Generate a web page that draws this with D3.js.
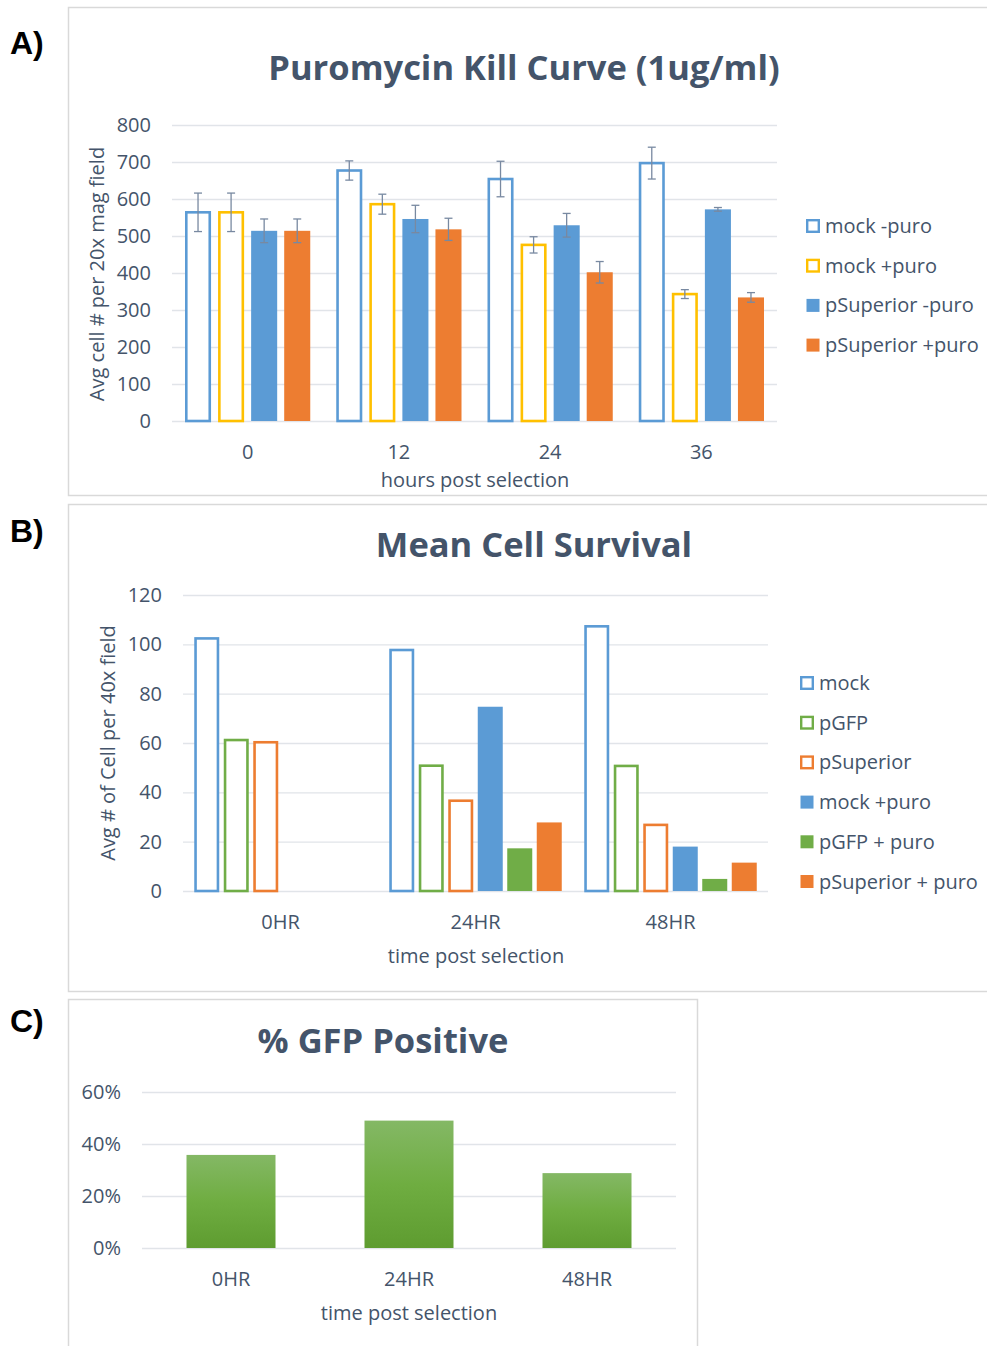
<!DOCTYPE html>
<html>
<head>
<meta charset="utf-8">
<script src="https://cdn.jsdelivr.net/npm/d3@7"></script>
<style>
  body { margin: 0; background: #fff; }
  svg text { font-family: "Open Sans", "Noto Sans", sans-serif; }
</style>
</head>
<body>
<svg id="fig" width="987" height="1346"></svg>
<script>
// ---- A) Puromycin kill curve
var killTimes = ["0", "12", "24", "36"];
var killSeries = ["mock -puro", "mock +puro", "pSuperior -puro", "pSuperior +puro"];
var killMockMinus = [564, 677, 654, 697];
var killMockPlus = [564, 586, 476, 343];
var killPSupMinus = [514, 546, 529, 572];
var killPSupPlus = [514, 518, 402, 334];
var killErrMockMinus = [52, 26, 48, 43];
var killErrMockPlus = [52, 27, 22, 12];
var killErrPSupMinus = [32, 37, 32, 5];
var killErrPSupPlus = [32, 30, 29, 13];
var killTicks = [0, 100, 200, 300, 400, 500, 600, 700, 800];

// ---- B) Mean cell survival
var survivalTimes = ["0HR", "24HR", "48HR"];
var survivalSeries = ["mock", "pGFP", "pSuperior", "mock +puro", "pGFP + puro", "pSuperior + puro"];
var survivalMock = [102.4, 97.7, 107.3];
var survivalPGFP = [61.2, 50.8, 50.7];
var survivalPSup = [60.3, 36.6, 26.8];
var survivalMockPuro = [0, 74.7, 18.0];
var survivalPGFPPuro = [0, 17.3, 4.9];
var survivalPSupPuro = [0, 27.8, 11.5];
var survivalTicks = [0, 20, 40, 60, 80, 100, 120];

// ---- C) % GFP positive
var gfpTimes = ["0HR", "24HR", "48HR"];
var gfpPositive = [0.358, 0.49, 0.288];
var gfpTicks = [0, 0.2, 0.4, 0.6];

var textCol = "#44546a";
var gridCol = "#e1e4e9";
var blue = "#5b9bd5", orange = "#ed7d31", yellow = "#ffc000", green = "#70ad47";
var fs = "20px";

var svg = d3.select("#fig");

// frames + panel letters
svg.append("rect").attr("x", 68.5).attr("y", 7.5).attr("width", 940).attr("height", 488)
  .attr("fill", "none").attr("stroke", "#d9d9d9").attr("stroke-width", 1.5);
svg.append("rect").attr("x", 68.5).attr("y", 504.5).attr("width", 940).attr("height", 487)
  .attr("fill", "none").attr("stroke", "#d9d9d9").attr("stroke-width", 1.5);
svg.append("rect").attr("x", 68.5).attr("y", 999.5).attr("width", 629).attr("height", 360)
  .attr("fill", "none").attr("stroke", "#d9d9d9").attr("stroke-width", 1.5);

[["A)", 42], ["B)", 530], ["C)", 1020]].forEach(function(p) {
  svg.append("text").attr("x", 10).attr("y", p[1]).attr("dy", "0.36em")
    .style("font-family", "Liberation Sans, Arial, sans-serif")
    .style("font-weight", "bold").style("font-size", "32px").attr("fill", "#000")
    .text(p[0]);
});

// a grouped bar chart with excel look
function grouped(cfg) {
  var g = svg.append("g");
  var y = d3.scaleLinear().domain([cfg.ticks[0], cfg.ticks[cfg.ticks.length - 1]]).range(cfg.yRange);
  var x0 = d3.scaleBand().domain(cfg.cats).range(cfg.xRange).padding(0);
  var x1 = d3.scaleBand().domain(cfg.series.map(function(s) { return s.name; }))
    .range([cfg.groupPad, x0.bandwidth() - cfg.groupPad]).paddingInner(cfg.inner);

  // grid + y labels
  var ya = g.append("g").attr("transform", "translate(" + cfg.xRange[0] + ",0)")
    .call(d3.axisLeft(y).tickValues(cfg.ticks).tickSize(-(cfg.xRange[1] - cfg.xRange[0])).tickPadding(21).tickFormat(cfg.fmt || d3.format("d")));
  ya.select(".domain").remove();
  ya.selectAll("line").attr("stroke", gridCol).attr("stroke-width", 1.3);
  ya.selectAll("text").attr("fill", textCol).style("font-size", fs);

  // x labels
  var xa = g.append("g").attr("transform", "translate(0," + cfg.yRange[0] + ")")
    .call(d3.axisBottom(x0).tickSize(0).tickPadding(cfg.xPad));
  xa.select(".domain").remove();
  xa.selectAll("text").attr("fill", textCol).style("font-size", fs);

  cfg.series.forEach(function(s) {
    var bars = g.append("g").selectAll("rect")
      .data(cfg.cats.map(function(c, i) { return {cat: c, v: s.values[i]}; }))
      .enter().append("rect");
    if (s.outline) {
      bars.attr("x", function(d) { return x0(d.cat) + x1(s.name) + 1.3; })
        .attr("y", function(d) { return y(d.v); })
        .attr("width", x1.bandwidth() - 2.6)
        .attr("height", function(d) { return y(0) - y(d.v); })
        .attr("fill", "#fff").attr("stroke", s.color).attr("stroke-width", 2.6);
    } else {
      bars.attr("x", function(d) { return x0(d.cat) + x1(s.name); })
        .attr("y", function(d) { return y(d.v); })
        .attr("width", x1.bandwidth())
        .attr("height", function(d) { return y(0) - y(d.v); })
        .attr("fill", s.color);
    }
    if (s.err) {
      var eb = g.append("g").selectAll("g")
        .data(cfg.cats.map(function(c, i) { return {cat: c, v: s.values[i], e: s.err[i]}; }))
        .enter().append("g").attr("stroke", "#7889a1").attr("stroke-width", 1.3);
      var cx = function(d) { return x0(d.cat) + x1(s.name) + x1.bandwidth() / 2; };
      eb.append("line").attr("x1", cx).attr("x2", cx)
        .attr("y1", function(d) { return y(d.v + d.e); }).attr("y2", function(d) { return y(d.v - d.e); });
      eb.append("line").attr("x1", function(d) { return cx(d) - 4; }).attr("x2", function(d) { return cx(d) + 4; })
        .attr("y1", function(d) { return y(d.v + d.e); }).attr("y2", function(d) { return y(d.v + d.e); });
      eb.append("line").attr("x1", function(d) { return cx(d) - 4; }).attr("x2", function(d) { return cx(d) + 4; })
        .attr("y1", function(d) { return y(d.v - d.e); }).attr("y2", function(d) { return y(d.v - d.e); });
    }
  });

  // title + axis titles
  g.append("text").attr("x", cfg.title[1]).attr("y", cfg.title[2]).attr("dy", "0.35em")
    .attr("text-anchor", "middle").attr("fill", textCol)
    .style("font-size", "34.5px").style("font-weight", "bold").text(cfg.title[0]);
  g.append("text").attr("x", cfg.xTitle[1]).attr("y", cfg.xTitle[2]).attr("dy", "0.35em")
    .attr("text-anchor", "middle").attr("fill", textCol).style("font-size", fs).text(cfg.xTitle[0]);
  g.append("text").attr("transform", "translate(" + cfg.yTitle[1] + "," + cfg.yTitle[2] + ") rotate(-90)")
    .attr("dy", "0.35em").attr("text-anchor", "middle").attr("fill", textCol)
    .style("font-size", fs).text(cfg.yTitle[0]);

  // legend
  var lg = g.append("g").selectAll("g").data(cfg.series).enter().append("g")
    .attr("transform", function(d, i) { return "translate(" + cfg.legend.x + "," + (cfg.legend.y + i * cfg.legend.step) + ")"; });
  lg.append("rect")
    .attr("x", function(d) { return d.outline ? 1.2 : 0.5; })
    .attr("y", function(d) { return d.outline ? -5.8 : -6.5; })
    .attr("width", function(d) { return d.outline ? 11.6 : 13; })
    .attr("height", function(d) { return d.outline ? 11.6 : 13; })
    .attr("fill", function(d) { return d.outline ? "#fff" : d.color; })
    .attr("stroke", function(d) { return d.outline ? d.color : "none"; })
    .attr("stroke-width", 2.4);
  lg.append("text").attr("x", cfg.legend.tx).attr("dy", "0.35em").attr("fill", textCol)
    .style("font-size", fs).text(function(d) { return d.name; });
  return {x0: x0, y: y};
}

grouped({
  cats: killTimes,
  ticks: killTicks,
  xRange: [172, 777], yRange: [421, 125],
  groupPad: 13, inner: 7 / 33,
  xPad: 24,
  series: [
    {name: killSeries[0], values: killMockMinus, err: killErrMockMinus, color: blue, outline: true},
    {name: killSeries[1], values: killMockPlus, err: killErrMockPlus, color: yellow, outline: true},
    {name: killSeries[2], values: killPSupMinus, err: killErrPSupMinus, color: blue},
    {name: killSeries[3], values: killPSupPlus, err: killErrPSupPlus, color: orange}
  ],
  title: ["Puromycin Kill Curve (1ug/ml)", 524, 68],
  xTitle: ["hours post selection", 475, 480],
  yTitle: ["Avg cell # per 20x mag field", 97, 274],
  legend: {x: 806, y: 226, step: 39.7, tx: 19}
});

grouped({
  cats: survivalTimes,
  ticks: survivalTicks,
  xRange: [183, 768], yRange: [891, 595],
  groupPad: 11.25, inner: 4.5 / 29.5,
  xPad: 24,
  series: [
    {name: survivalSeries[0], values: survivalMock, color: blue, outline: true},
    {name: survivalSeries[1], values: survivalPGFP, color: green, outline: true},
    {name: survivalSeries[2], values: survivalPSup, color: orange, outline: true},
    {name: survivalSeries[3], values: survivalMockPuro, color: blue},
    {name: survivalSeries[4], values: survivalPGFPPuro, color: green},
    {name: survivalSeries[5], values: survivalPSupPuro, color: orange}
  ],
  title: ["Mean Cell Survival", 534, 545],
  xTitle: ["time post selection", 476, 956],
  yTitle: ["Avg # of Cell per 40x field", 108, 743],
  legend: {x: 800, y: 683, step: 39.7, tx: 19}
});

// ---- C panel: single series with gradient
var defs = svg.append("defs");
var grad = defs.append("linearGradient").attr("id", "gfpGrad").attr("x1", 0).attr("x2", 0).attr("y1", 0).attr("y2", 1);
grad.append("stop").attr("offset", "0%").attr("stop-color", "#84b865");
grad.append("stop").attr("offset", "50%").attr("stop-color", "#6fad41");
grad.append("stop").attr("offset", "100%").attr("stop-color", "#5e9c30");

var gc = svg.append("g");
var yC = d3.scaleLinear().domain([0, 0.6]).range([1248, 1092]);
var xC = d3.scaleBand().domain(gfpTimes).range([142, 676]).paddingInner(0.5).paddingOuter(0.25);

var yaC = gc.append("g").attr("transform", "translate(142,0)")
  .call(d3.axisLeft(yC).tickValues(gfpTicks).tickSize(-534).tickPadding(21).tickFormat(d3.format(".0%")));
yaC.select(".domain").remove();
yaC.selectAll("line").attr("stroke", gridCol).attr("stroke-width", 1.3);
yaC.selectAll("text").attr("fill", textCol).style("font-size", fs);

var xaC = gc.append("g").attr("transform", "translate(0,1248)")
  .call(d3.axisBottom(xC).tickSize(0).tickPadding(24));
xaC.select(".domain").remove();
xaC.selectAll("text").attr("fill", textCol).style("font-size", fs);

gc.append("g").selectAll("rect")
  .data(gfpTimes.map(function(t, i) { return {t: t, v: gfpPositive[i]}; }))
  .enter().append("rect")
  .attr("x", function(d) { return xC(d.t); })
  .attr("y", function(d) { return yC(d.v); })
  .attr("width", xC.bandwidth())
  .attr("height", function(d) { return yC(0) - yC(d.v); })
  .attr("fill", "url(#gfpGrad)");

gc.append("text").attr("x", 383).attr("y", 1041).attr("dy", "0.35em").attr("text-anchor", "middle")
  .attr("fill", textCol).style("font-size", "34.5px").style("font-weight", "bold").text("% GFP Positive");
gc.append("text").attr("x", 409).attr("y", 1313).attr("dy", "0.35em").attr("text-anchor", "middle")
  .attr("fill", textCol).style("font-size", fs).text("time post selection");
</script>
</body>
</html>
